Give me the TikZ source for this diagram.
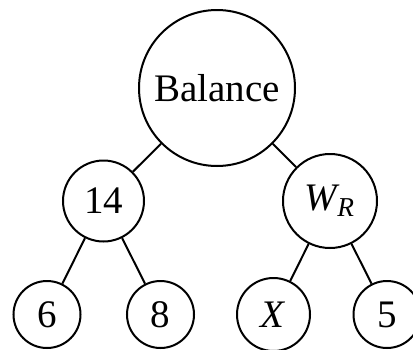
\documentclass[tikz,border=0pt]{standalone}
\usepackage{amsmath}
\usepackage{fontspec}
\setmainfont{Liberation Serif}
\usetikzlibrary{positioning}
\tikzstyle{vertex} = [draw, circle, line width=1pt, inner sep=0pt, text=black, font=\rmfamily]
\tikzstyle{edge} = [draw, line width=1pt]

\begin{document}
\begin{tikzpicture}[x=0.5pt, y=-0.5pt] \fontsize{19.5}{23}\selectfont
    \useasboundingbox (0,0) rectangle (413,349);
    \node at (217,88) [vertex, minimum size=78pt] (balance) {Balance};
    \node at (103.5,201) [vertex, minimum size=40.5pt] (n14) {14};
    \node at (330,201) [vertex, minimum size=47pt] (wr) {$\textit{W}_{\textit{R}}$};

    \node at (47,314.5) [vertex, minimum size=33.5pt] (n6) {6};
    \node at (160.5,314.5) [vertex, minimum size=33.5pt] (n8) {8};
    \node at (273.5,314.5) [vertex, minimum size=36.5pt] (x) {\textit{X}};
    \node at (387,314.5) [vertex, minimum size=33.5pt] (n5) {5};

    \draw [edge] (balance) -- (n14);
    \draw [edge] (balance) -- (wr);
    \draw [edge] (n14) -- (n6);
    \draw [edge] (n14) -- (n8);
    \draw [edge] (wr) -- (x);
    \draw [edge] (wr) -- (n5);
\end{tikzpicture}
\end{document}
